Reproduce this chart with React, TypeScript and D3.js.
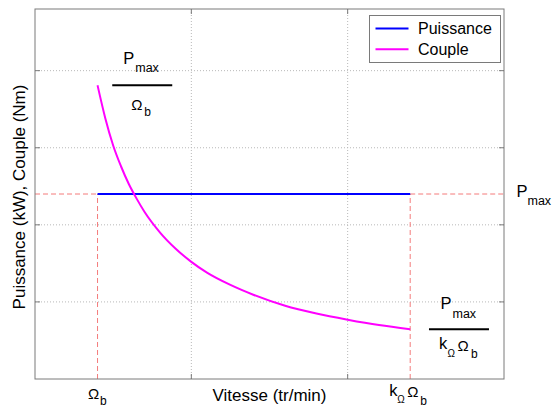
import * as React from 'react';
import * as d3 from 'd3';

// vitesse (unités relatives)
const speed = [0.4, 0.45, 0.5, 0.55, 0.6, 0.65, 0.7, 0.8, 0.9, 1.0, 1.1, 1.25, 1.4, 1.6, 1.8, 2.0, 2.2, 2.4];
const couple = [3.81, 3.38, 3.03, 2.76, 2.53, 2.34, 2.17, 1.9, 1.69, 1.52, 1.38, 1.22, 1.09, 0.95, 0.85, 0.77, 0.7, 0.645];
const powerSpeed = [0.4, 2.4];
const power = [2.4, 2.4];

const OMEGA_B = 0.4;
const K_OMEGA_B = 2.4;
const P_MAX = 2.4;

const xGrid = [1, 2];
const yGrid = [1, 2, 3, 4];

const legendItems = [
  { label: 'Puissance', color: '#0000ff' },
  { label: 'Couple', color: '#ff00ff' },
];

const W = 552;
const H = 408;
const margin = { top: 9, right: 48, bottom: 29, left: 35 };
const FONT = '"Liberation Sans", Arial, Helvetica, sans-serif';
const AXIS = '#7a7a7a';
const GRID = '#b8b8b8';
const DASH = '#f47b7b';

export default function App() {
  const x = d3.scaleLinear().domain([0, 3]).range([margin.left, W - margin.right]);
  const y = d3.scaleLinear().domain([0, 4.8]).range([H - margin.bottom, margin.top]);
  const [x0, x1] = x.range();
  const [y0, y1] = y.range();

  const line = d3
    .line<[number, number]>()
    .x((d) => x(d[0]))
    .y((d) => y(d[1]))
    .curve(d3.curveMonotoneX);

  const coupleD = line(speed.map((s, i) => [s, couple[i]]) as [number, number][]) || '';
  const powerD = line(powerSpeed.map((s, i) => [s, power[i]]) as [number, number][]) || '';

  const xb = x(OMEGA_B);
  const xk = x(K_OMEGA_B);
  const yp = y(P_MAX);

  // fractions Pmax / Ωb et Pmax / (kΩ Ωb)
  const f1 = { cx: x(0.686), cy: y(couple[0]) };
  const f2 = { cx: x(2.712), cy: y(couple[couple.length - 1]) };

  const t = (props: any, s: string) => (
    <text fontFamily={FONT} fill="#000" {...props}>
      {s}
    </text>
  );

  return (
    <svg
      width={W}
      height={H}
      style={{ position: 'absolute', left: 0, top: 0, background: '#fff' }}
    >
      <rect x={0} y={0} width={W} height={H} fill="#fff" />

      {/* grille */}
      {xGrid.map((g) => (
        <line key={'gx' + g} x1={x(g)} x2={x(g)} y1={y1} y2={y0} stroke={GRID} strokeDasharray="1,2" />
      ))}
      {yGrid.map((g) => (
        <line key={'gy' + g} x1={x0} x2={x1} y1={y(g)} y2={y(g)} stroke={GRID} strokeDasharray="1,2" />
      ))}

      {/* repères en pointillés */}
      <line x1={xb} x2={xb} y1={y0} y2={yp} stroke={DASH} strokeDasharray="5,3" />
      <line x1={x0} x2={xb} y1={yp} y2={yp} stroke={DASH} strokeDasharray="5,3" />
      <line x1={xk} x2={xk} y1={y0} y2={yp} stroke={DASH} strokeDasharray="5,3" />
      <line x1={xk} x2={x1} y1={yp} y2={yp} stroke={DASH} strokeDasharray="5,3" />

      {/* courbes */}
      <path d={powerD} fill="none" stroke="#0000ff" strokeWidth={2.2} />
      <path d={coupleD} fill="none" stroke="#ff00ff" strokeWidth={2} />

      {/* cadre et graduations */}
      <rect x={x0} y={y1} width={x1 - x0} height={y0 - y1} fill="none" stroke={AXIS} />
      {xGrid.map((g) => (
        <g key={'tx' + g} stroke={AXIS}>
          <line x1={x(g)} x2={x(g)} y1={y0} y2={y0 - 5} />
          <line x1={x(g)} x2={x(g)} y1={y1} y2={y1 + 5} />
        </g>
      ))}
      {yGrid.map((g) => (
        <g key={'ty' + g} stroke={AXIS}>
          <line x1={x0} x2={x0 + 5} y1={y(g)} y2={y(g)} />
          <line x1={x1} x2={x1 - 5} y1={y(g)} y2={y(g)} />
        </g>
      ))}

      {/* étiquettes des axes */}
      {t({ x: (x0 + x1) / 2, y: 401, fontSize: 17, textAnchor: 'middle' }, 'Vitesse (tr/min)')}
      {t(
        { x: 0, y: 0, fontSize: 17, textAnchor: 'middle', transform: `translate(25,${(y0 + y1) / 2 + 3}) rotate(-90)` },
        'Puissance (kW), Couple (Nm)'
      )}

      {/* graduations Ωb et kΩΩb */}
      {t({ x: xb - 9.5, y: 399, fontSize: 15 }, 'Ω')}
      {t({ x: xb + 2.5, y: 405, fontSize: 12 }, 'b')}
      {t({ x: xk - 21, y: 396, fontSize: 16.5 }, 'k')}
      {t({ x: xk - 13, y: 403, fontSize: 10 }, 'Ω')}
      {t({ x: xk - 3, y: 397, fontSize: 15 }, 'Ω')}
      {t({ x: xk + 10, y: 405, fontSize: 12 }, 'b')}

      {/* Pmax à droite */}
      {t({ x: x1 + 12.5, y: yp + 2.7, fontSize: 16.5 }, 'P')}
      {t({ x: x1 + 23.5, y: yp + 11, fontSize: 12.5 }, 'max')}

      {/* fraction Pmax / Ωb */}
      <line x1={f1.cx - 30} x2={f1.cx + 30} y1={f1.cy} y2={f1.cy} stroke="#000" strokeWidth={2} />
      {t({ x: f1.cx - 19, y: f1.cy - 21.4, fontSize: 16.5 }, 'P')}
      {t({ x: f1.cx - 7, y: f1.cy - 13, fontSize: 12.5 }, 'max')}
      {t({ x: f1.cx - 11, y: f1.cy + 24.6, fontSize: 15 }, 'Ω')}
      {t({ x: f1.cx + 2, y: f1.cy + 30.3, fontSize: 12 }, 'b')}

      {/* fraction Pmax / kΩΩb */}
      <line x1={f2.cx - 30} x2={f2.cx + 30} y1={f2.cy} y2={f2.cy} stroke="#000" strokeWidth={2} />
      {t({ x: f2.cx - 18.5, y: f2.cy - 20.3, fontSize: 16.5 }, 'P')}
      {t({ x: f2.cx - 6.5, y: f2.cy - 11.6, fontSize: 12.5 }, 'max')}
      {t({ x: f2.cx - 20, y: f2.cy + 20, fontSize: 16.5 }, 'k')}
      {t({ x: f2.cx - 11.5, y: f2.cy + 27.4, fontSize: 10 }, 'Ω')}
      {t({ x: f2.cx - 1.5, y: f2.cy + 22, fontSize: 15 }, 'Ω')}
      {t({ x: f2.cx + 12, y: f2.cy + 29, fontSize: 12 }, 'b')}

      {/* légende */}
      <g>
        <rect x={369.5} y={15.5} width={131} height={47} fill="#fff" stroke={AXIS} />
        {legendItems.map((it, i) => (
          <g key={it.label}>
            <line x1={375.5} x2={408.5} y1={28.5 + i * 20.7} y2={28.5 + i * 20.7} stroke={it.color} strokeWidth={2} />
            {t({ x: 418, y: 33.5 + i * 21, fontSize: 16 }, it.label)}
          </g>
        ))}
      </g>
    </svg>
  );
}
